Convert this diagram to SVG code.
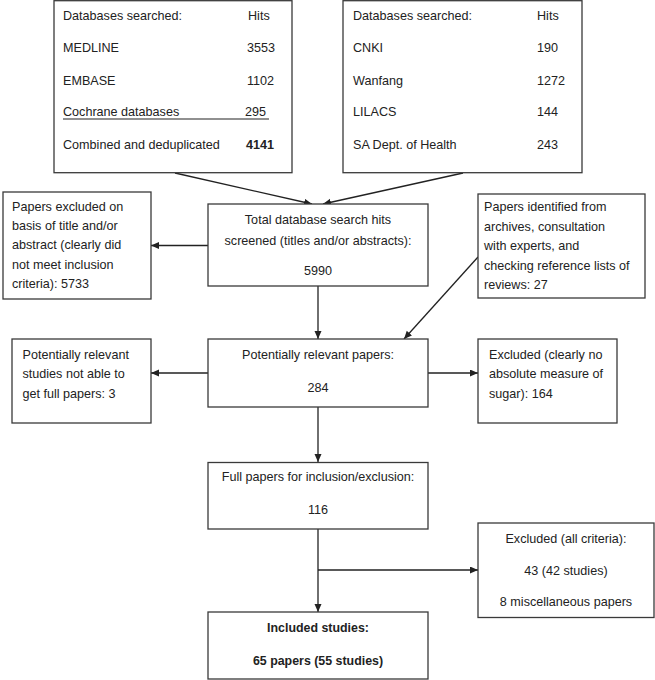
<svg xmlns="http://www.w3.org/2000/svg" width="655" height="680" viewBox="0 0 655 680">
<defs>
<style>
.box{fill:#fff;stroke:#3a3a3a;stroke-width:1.3}
text{font-family:"Liberation Sans",Arial,sans-serif;font-size:12.6px;fill:#222}
.c{text-anchor:middle}
.b{font-weight:bold;font-size:12.4px}
.ln{stroke:#222;stroke-width:1.3;fill:none}
</style>
<marker id="ah" markerUnits="userSpaceOnUse" markerWidth="9" markerHeight="8" refX="8" refY="3.5" orient="auto">
<path d="M0,0 L8,3.5 L0,7 z" fill="#222"/>
</marker>
</defs>
<rect width="655" height="680" fill="#fff"/>

<g id="connectors">
<line class="ln" x1="175" y1="173" x2="312" y2="204" marker-end="url(#ah)"/>
<line class="ln" x1="463" y1="173" x2="323" y2="204" marker-end="url(#ah)"/>
<line class="ln" x1="208" y1="245.5" x2="151" y2="245.5" marker-end="url(#ah)"/>
<line class="ln" x1="318" y1="286" x2="318" y2="339" marker-end="url(#ah)"/>
<line class="ln" x1="478" y1="257" x2="404" y2="339" marker-end="url(#ah)"/>
<line class="ln" x1="208" y1="373" x2="151" y2="373" marker-end="url(#ah)"/>
<line class="ln" x1="428" y1="373" x2="478" y2="373" marker-end="url(#ah)"/>
<line class="ln" x1="318" y1="407" x2="318" y2="462" marker-end="url(#ah)"/>
<line class="ln" x1="318" y1="529" x2="318" y2="612" marker-end="url(#ah)"/>
<line class="ln" x1="318" y1="570" x2="478" y2="570" marker-end="url(#ah)"/>
</g>

<g id="db1">
<rect class="box" x="54" y="0.7" width="238" height="172"/>
<text x="63" y="19.5">Databases searched:</text><text x="248" y="19.5">Hits</text>
<text x="63" y="52">MEDLINE</text><text x="247" y="52">3553</text>
<text x="63" y="84.5">EMBASE</text><text x="247" y="84.5">1102</text>
<text x="63" y="116">Cochrane databases</text><text x="245" y="116">295</text>
<line x1="63" y1="119" x2="269" y2="119" stroke="#222" stroke-width="1.1"/>
<text x="63" y="149">Combined and deduplicated</text><text x="246" y="149" font-weight="bold">4141</text>
</g>

<g id="db2">
<rect class="box" x="343" y="0.7" width="239" height="172"/>
<text x="353" y="19.5">Databases searched:</text><text x="537" y="19.5">Hits</text>
<text x="353" y="52">CNKI</text><text x="537" y="52">190</text>
<text x="353" y="84.5">Wanfang</text><text x="537" y="84.5">1272</text>
<text x="353" y="116">LILACS</text><text x="537" y="116">144</text>
<text x="353" y="149">SA Dept. of Health</text><text x="537" y="149">243</text>
</g>

<g id="excluded-title">
<rect class="box" x="3" y="192" width="148" height="107"/>
<text x="12" y="210.5">Papers excluded on</text>
<text x="12" y="229.8">basis of title and/or</text>
<text x="12" y="249.3">abstract (clearly did</text>
<text x="12" y="268.8">not meet inclusion</text>
<text x="12" y="288.3">criteria): 5733</text>
</g>

<g id="screened">
<rect class="box" x="208" y="204" width="220" height="82"/>
<text class="c" x="318" y="223.5">Total database search hits</text>
<text class="c" x="318" y="244.5">screened (titles and/or abstracts):</text>
<text class="c" x="318" y="274.5">5990</text>
</g>

<g id="other-sources">
<rect class="box" x="478" y="194" width="167" height="104"/>
<text x="484" y="211">Papers identified from</text>
<text x="484" y="230.5">archives, consultation</text>
<text x="484" y="250">with experts, and</text>
<text x="484" y="269.5">checking reference lists of</text>
<text x="484" y="288.5">reviews: 27</text>
</g>

<g id="no-full">
<rect class="box" x="12" y="339" width="139" height="84"/>
<text x="22.5" y="358.5">Potentially relevant</text>
<text x="22.5" y="378.3">studies not able to</text>
<text x="22.5" y="397.5">get full papers: 3</text>
</g>

<g id="relevant">
<rect class="box" x="208" y="339" width="220" height="68"/>
<text class="c" x="318" y="358.5">Potentially relevant papers:</text>
<text class="c" x="318" y="391.5">284</text>
</g>

<g id="excluded-sugar">
<rect class="box" x="478" y="339" width="139" height="84"/>
<text x="489" y="358.5">Excluded (clearly no</text>
<text x="489" y="378.3">absolute measure of</text>
<text x="489" y="397.5">sugar): 164</text>
</g>

<g id="full-papers">
<rect class="box" x="208" y="462.5" width="220" height="66.5"/>
<text class="c" x="318" y="481">Full papers for inclusion/exclusion:</text>
<text class="c" x="318" y="513.5">116</text>
</g>

<g id="excluded-all">
<rect class="box" x="478" y="523" width="176" height="94.5"/>
<text class="c" x="566" y="542.5">Excluded (all criteria):</text>
<text class="c" x="566" y="575">43 (42 studies)</text>
<text class="c" x="566" y="606">8 miscellaneous papers</text>
</g>

<g id="included">
<rect class="box" x="208" y="612" width="220" height="67"/>
<text class="c b" x="318" y="631.5">Included studies:</text>
<text class="c b" x="318" y="664.5">65 papers (55 studies)</text>
</g>
</svg>
